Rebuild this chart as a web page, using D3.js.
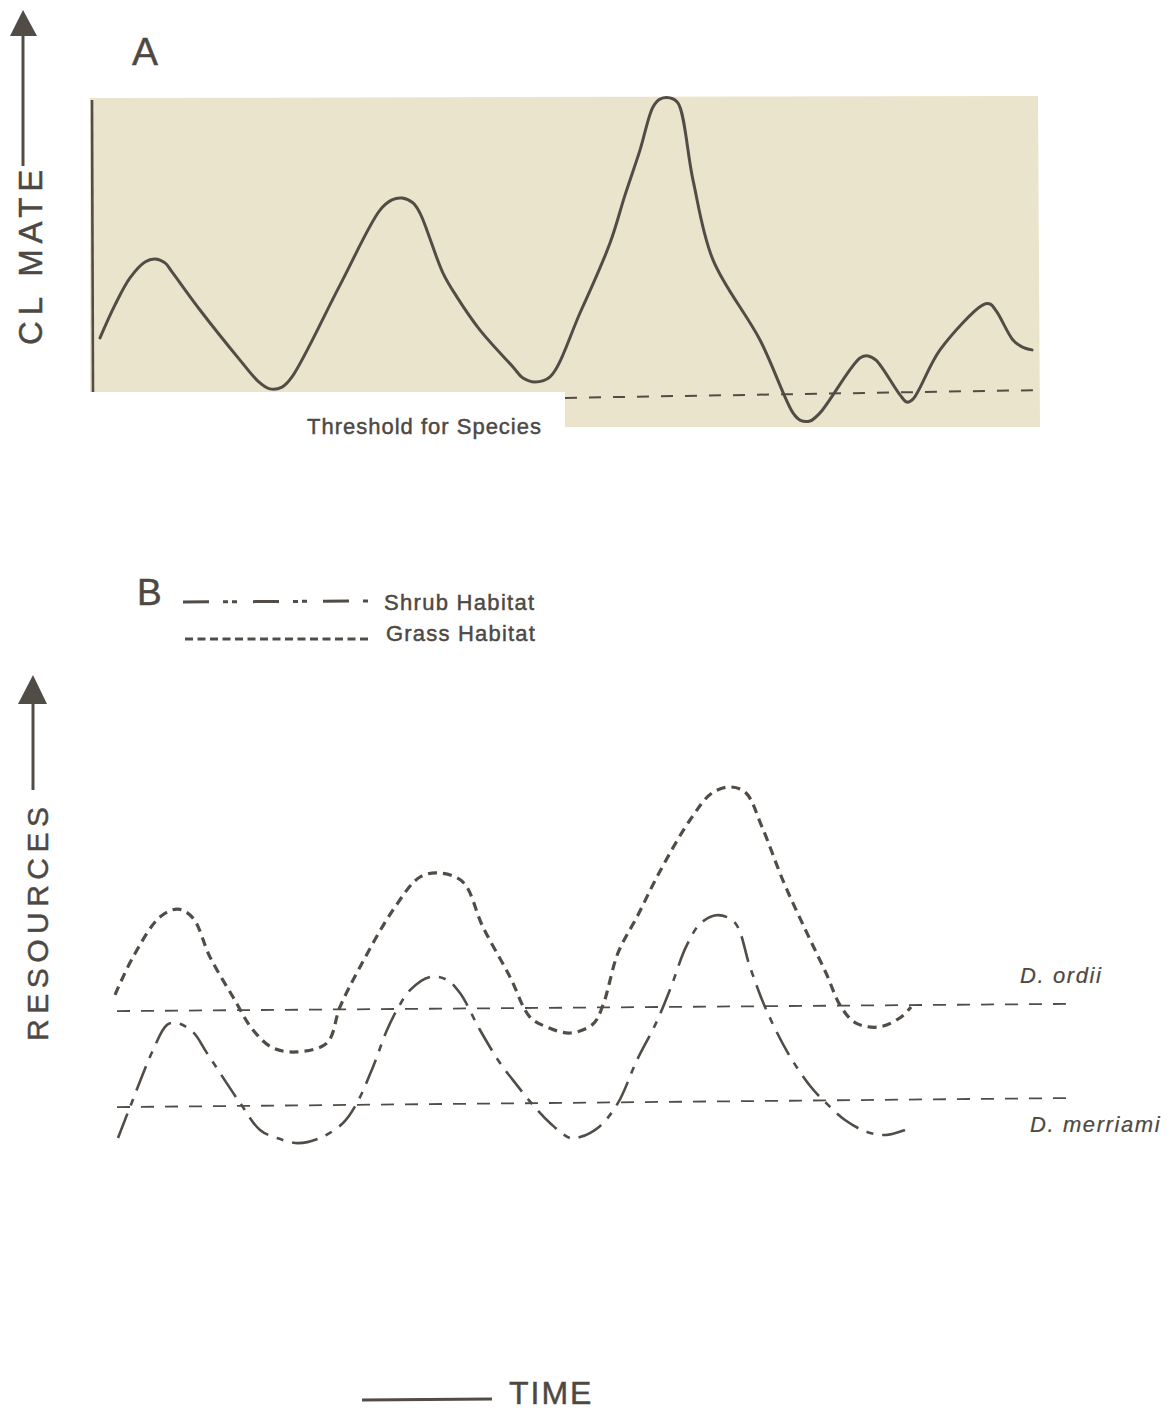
<!DOCTYPE html>
<html>
<head>
<meta charset="utf-8">
<script src="https://cdn.jsdelivr.net/npm/d3@7"></script>
<style>
  html, body { margin: 0; padding: 0; background: #ffffff; }
  svg { display: block; }
  text { font-family: "Liberation Sans", Arial, Helvetica, sans-serif; fill: #4d4843; stroke: #4d4843; stroke-width: 0.45px; }
</style>
</head>
<body>
<script>
// ---------------- DATA ----------------
// Panel A: climate through time (time 0-100, climate arbitrary units)
const climateTime = [1.0, 2.5, 4.0, 5.5, 6.5, 7.5, 8.2, 11.0, 15.0, 16.8, 18.0, 19.2, 20.2, 25.0, 29.0, 30.2, 31.2, 32.3, 33.0, 35.3, 36.7, 39.0, 42.3, 43.3, 44.5, 46.0, 49.0, 52.0, 53.5, 55.0, 56.3, 57.0, 58.0, 58.8, 60.3, 62.3, 67.0, 70.3, 71.0, 72.0, 73.0, 77.0, 77.8, 78.6, 81.0, 81.7, 82.3, 85.0, 89.3, 90.0, 90.7, 92.3, 93.2, 94.2];
const climateValue = [20.7, 31.7, 40.7, 46.0, 47.0, 45.7, 42.7, 30.0, 13.3, 6.3, 3.7, 4.3, 7.7, 38.3, 63.3, 66.7, 67.3, 65.7, 62.3, 42.3, 34.3, 23.3, 11.0, 7.3, 6.0, 7.7, 29.0, 52.3, 68.3, 83.3, 97.7, 100.3, 100.7, 99.0, 73.3, 46.7, 20.0, -4.3, -6.7, -7.0, -4.3, 14.0, 14.7, 13.3, 1.7, -0.7, 0.3, 16.7, 31.7, 32.0, 29.3, 20.0, 17.7, 16.7];
const thresholdTime = [47.5, 94.8];
const thresholdValue = [0.7, 3.3];

// Panel B: resources through time
const grassTime = [2.5, 4.3, 7.0, 8.8, 10.3, 12.0, 14.3, 16.3, 18.3, 20.7, 23.7, 25.0, 27.0, 30.3, 33.0, 35.0, 37.3, 39.3, 42.0, 44.0, 45.7, 48.0, 50.3, 51.3, 52.8, 54.7, 56.9, 60.0, 62.2, 64.1, 65.6, 67.2, 69.4, 71.7, 73.6, 75.1, 76.6, 78.9, 81.1, 82.1];
const grassValue = [51.7, 64.3, 77.7, 80.3, 77.3, 64.3, 51.0, 40.0, 34.0, 32.7, 35.7, 47.7, 61.0, 80.0, 91.0, 92.3, 89.3, 74.3, 57.7, 44.3, 41.0, 39.0, 42.0, 48.3, 65.7, 77.7, 92.3, 110.0, 119.0, 121.0, 119.0, 107.7, 89.0, 72.3, 59.0, 47.7, 42.3, 41.0, 44.3, 47.7];
const shrubTime = [2.8, 4.0, 6.3, 7.7, 8.7, 10.3, 11.7, 15.0, 17.0, 18.7, 20.8, 23.0, 25.3, 26.7, 28.3, 29.7, 30.7, 32.0, 34.0, 35.7, 37.0, 39.0, 41.0, 42.3, 44.3, 46.0, 48.0, 49.0, 50.9, 52.8, 54.7, 56.6, 58.1, 59.6, 61.1, 62.8, 64.5, 66.0, 67.5, 69.8, 72.1, 73.6, 75.5, 77.7, 79.6, 81.5];
const shrubValue = [4.0, 14.3, 33.3, 41.7, 42.3, 39.3, 32.3, 15.7, 6.7, 4.0, 2.3, 4.0, 9.0, 15.7, 27.7, 40.0, 46.7, 53.3, 57.7, 56.7, 52.3, 40.0, 29.0, 23.3, 15.0, 9.0, 4.0, 4.3, 7.7, 15.7, 30.0, 42.3, 54.3, 67.7, 75.7, 78.3, 75.7, 61.0, 47.7, 32.3, 21.0, 15.7, 10.0, 6.0, 5.0, 6.7];
const ordiiTime = [2.7, 97.8];
const ordiiValue = [46.3, 48.7];
const merriamiTime = [2.7, 97.6];
const merriamiValue = [14.3, 17.3];

const legendLabels = ["Shrub Habitat", "Grass Habitat"];
const speciesLabels = ["D. ordii", "D. merriami"];

// ---------------- DRAWING ----------------
const W = 1176, H = 1412;
const ink = "#524c47";
const svg = d3.select("body").append("svg").attr("width", W).attr("height", H);

const x = d3.scaleLinear().domain([0, 100]).range([90, 1090]);
const yA = d3.scaleLinear().domain([0, 100]).range([400, 100]);
const yB = d3.scaleLinear().domain([0, 100]).range([1150, 850]);

const zip = (ts, vs) => ts.map((t, i) => ({ t, v: vs[i] }));

// ---- Panel A background ----
svg.append("path")
  .attr("d", "M90,98 L1038,96 L1040,427 L565,427 L565,392 L90,392 Z")
  .attr("fill", "#ebe4cc");

// vertical axis line
svg.append("line").attr("x1", 92).attr("x2", 93).attr("y1", 100).attr("y2", 392)
  .attr("stroke", ink).attr("stroke-width", 2.6);

const lineA = d3.line().x(d => x(d.t)).y(d => yA(d.v)).curve(d3.curveCatmullRom.alpha(0.5));
svg.append("path").datum(zip(climateTime, climateValue))
  .attr("d", lineA).attr("fill", "none").attr("stroke", ink)
  .attr("stroke-width", 3).attr("stroke-linejoin", "round").attr("stroke-linecap", "round");

const straightA = d3.line().x(d => x(d.t)).y(d => yA(d.v));
svg.append("path").datum(zip(thresholdTime, thresholdValue))
  .attr("d", straightA).attr("fill", "none").attr("stroke", ink)
  .attr("stroke-width", 2).attr("stroke-dasharray", "12,12");

svg.append("text").attr("x", 307).attr("y", 434).attr("font-size", 22)
  .attr("letter-spacing", 1).text("Threshold for Species");

svg.append("text").attr("x", 132).attr("y", 65).attr("font-size", 39).text("A");

// Y label A with arrow
svg.append("text").attr("transform", "translate(42,345) rotate(-90)")
  .attr("font-size", 33).attr("letter-spacing", 6).text("CL MATE");
svg.append("line").attr("x1", 23).attr("x2", 23).attr("y1", 166).attr("y2", 32)
  .attr("stroke", ink).attr("stroke-width", 3);
svg.append("path").attr("d", "M23,10 L10,36 L37,36 Z").attr("fill", ink);

// ---- Panel B ----
svg.append("text").attr("x", 137).attr("y", 605).attr("font-size", 37).text("B");

svg.append("line").attr("x1", 183).attr("x2", 370).attr("y1", 602).attr("y2", 601)
  .attr("stroke", ink).attr("stroke-width", 3).attr("stroke-dasharray", "26,14,5,4,5,16");
svg.append("line").attr("x1", 185).attr("x2", 370).attr("y1", 639).attr("y2", 639)
  .attr("stroke", ink).attr("stroke-width", 3).attr("stroke-dasharray", "8,4.5");
svg.append("text").attr("x", 384).attr("y", 610).attr("font-size", 22)
  .attr("letter-spacing", 1.3).text(legendLabels[0]);
svg.append("text").attr("x", 386).attr("y", 641).attr("font-size", 22)
  .attr("letter-spacing", 1.2).text(legendLabels[1]);

const lineB = d3.line().x(d => x(d.t)).y(d => yB(d.v)).curve(d3.curveCatmullRom.alpha(0.5));
const straightB = d3.line().x(d => x(d.t)).y(d => yB(d.v));

svg.append("path").datum(zip(ordiiTime, ordiiValue))
  .attr("d", straightB).attr("fill", "none").attr("stroke", ink)
  .attr("stroke-width", 1.8).attr("stroke-dasharray", "13,11");
svg.append("path").datum(zip(merriamiTime, merriamiValue))
  .attr("d", straightB).attr("fill", "none").attr("stroke", ink)
  .attr("stroke-width", 1.8).attr("stroke-dasharray", "13,11");

svg.append("path").datum(zip(grassTime, grassValue))
  .attr("d", lineB).attr("fill", "none").attr("stroke", ink)
  .attr("stroke-width", 3.2).attr("stroke-dasharray", "9,6");
svg.append("path").datum(zip(shrubTime, shrubValue))
  .attr("d", lineB).attr("fill", "none").attr("stroke", ink)
  .attr("stroke-width", 2.6).attr("stroke-dasharray", "26,9,7,9");

svg.append("text").attr("x", 1020).attr("y", 983).attr("font-size", 22)
  .attr("font-style", "italic").attr("letter-spacing", 1.6).style("stroke-width", "0.2px").text(speciesLabels[0]);
svg.append("text").attr("x", 1030).attr("y", 1132).attr("font-size", 22)
  .attr("font-style", "italic").attr("letter-spacing", 1.6).style("stroke-width", "0.2px").text(speciesLabels[1]);

// Y label B with arrow
svg.append("text").attr("transform", "translate(48,1041) rotate(-90)")
  .attr("font-size", 30).attr("letter-spacing", 5.5).text("RESOURCES");
svg.append("line").attr("x1", 33).attr("x2", 33).attr("y1", 790).attr("y2", 700)
  .attr("stroke", ink).attr("stroke-width", 3);
svg.append("path").attr("d", "M33,675 L18,704 L47,704 Z").attr("fill", ink);

// X label
svg.append("line").attr("x1", 362).attr("x2", 492).attr("y1", 1400).attr("y2", 1399)
  .attr("stroke", ink).attr("stroke-width", 3);
svg.append("text").attr("x", 509).attr("y", 1404).attr("font-size", 32)
  .attr("letter-spacing", 2).text("TIME");
</script>
</body>
</html>
